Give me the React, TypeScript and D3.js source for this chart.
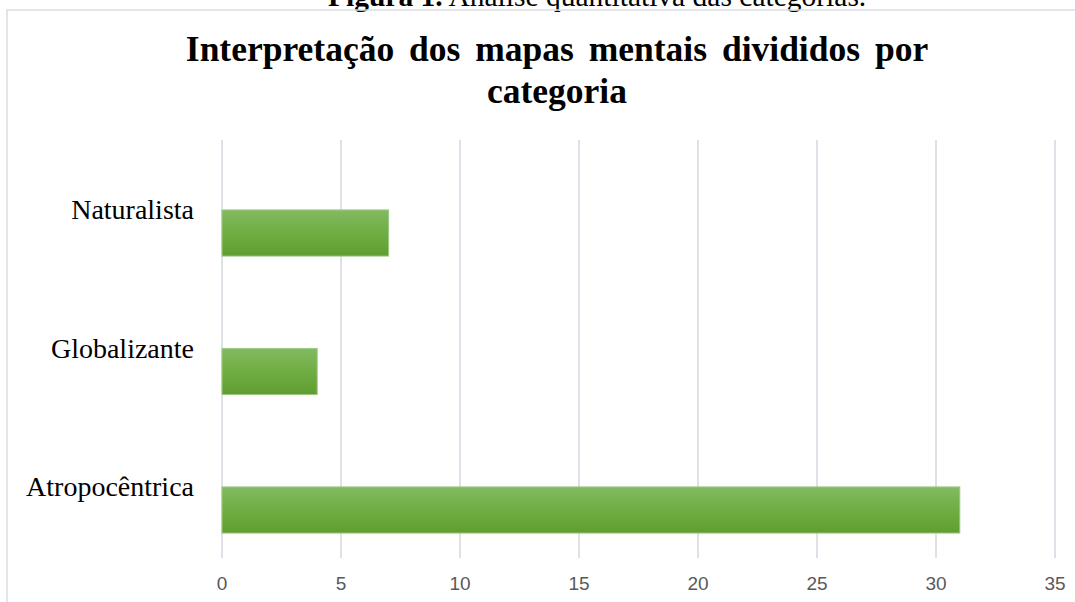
import React from "react";
import * as d3 from "d3";

const categories = ["Naturalista", "Globalizante", "Atropocêntrica"];
const values = [7, 4, 31];
const xTicks = [0, 5, 10, 15, 20, 25, 30, 35];
const titleLines = ["Interpretação dos mapas mentais divididos por", "categoria"];

export default function App() {
  const W = 1075;
  const H = 602;
  const x = d3.scaleLinear().domain([0, 35]).range([222, 1055]);
  const y = d3.scaleBand<string>().domain(categories).range([163.75, 579.25]).padding(0);
  const bw = y.bandwidth();
  const barH = bw * 0.333;
  const gridTop = 140;
  const gridBottom = 558;

  return (
    <svg
      width={W}
      height={H}
      style={{ position: "absolute", left: 0, top: 0, background: "#fff" }}
    >
      <defs>
        <linearGradient id="barGrad" x1="0" y1="0" x2="0" y2="1">
          <stop offset="0" stopColor="#82ba62" />
          <stop offset="0.5" stopColor="#6fae42" />
          <stop offset="1" stopColor="#5f9d31" />
        </linearGradient>
      </defs>
      <rect x={0} y={0} width={W} height={H} fill="#fff" />
      {/* caption (partially cut off) */}
      <text
        x={328}
        y={6}
        fontFamily="'Liberation Serif', 'Times New Roman', serif"
        fontSize={29.5}
        fill="#000"
      >
        <tspan fontWeight="bold">Figura 1.</tspan>
        <tspan> Análise quantitativa das categorias.</tspan>
      </text>
      {/* chart frame */}
      <rect x={7} y={10} width={W + 20} height={H + 20} fill="none" stroke="#d9dde4" strokeWidth={1.5} />
      {/* title */}
      {titleLines.map((t, i) => (
        <text
          key={t}
          x={557}
          y={61 + i * 42}
          textAnchor="middle"
          fontFamily="'Liberation Serif', 'Times New Roman', serif"
          fontWeight="bold"
          fontSize={35.5}
          wordSpacing={6}
          fill="#000"
        >
          {t}
        </text>
      ))}
      {/* gridlines */}
      {xTicks.map((t) => (
        <line
          key={t}
          x1={x(t)}
          x2={x(t)}
          y1={gridTop}
          y2={gridBottom}
          stroke="#dde1e8"
          strokeWidth={2}
        />
      ))}
      {/* bars */}
      {categories.map((c, i) => (
        <rect
          key={c}
          x={x(0)}
          y={(y(c) as number) + (bw - barH) / 2}
          width={x(values[i]) - x(0)}
          height={barH}
          fill="url(#barGrad)"
          stroke="#9cc982"
          strokeWidth={1}
        />
      ))}
      {/* category labels */}
      {categories.map((c) => (
        <text
          key={c}
          x={194}
          y={(y(c) as number) + bw / 2 - 14}
          textAnchor="end"
          fontFamily="'Liberation Serif', 'Times New Roman', serif"
          fontSize={28}
          fill="#000"
        >
          {c}
        </text>
      ))}
      {/* tick labels */}
      {xTicks.map((t) => (
        <text
          key={t}
          x={x(t)}
          y={590}
          textAnchor="middle"
          fontFamily="'Liberation Sans', Arial, sans-serif"
          fontSize={19}
          fill="#595959"
        >
          {t}
        </text>
      ))}
    </svg>
  );
}
